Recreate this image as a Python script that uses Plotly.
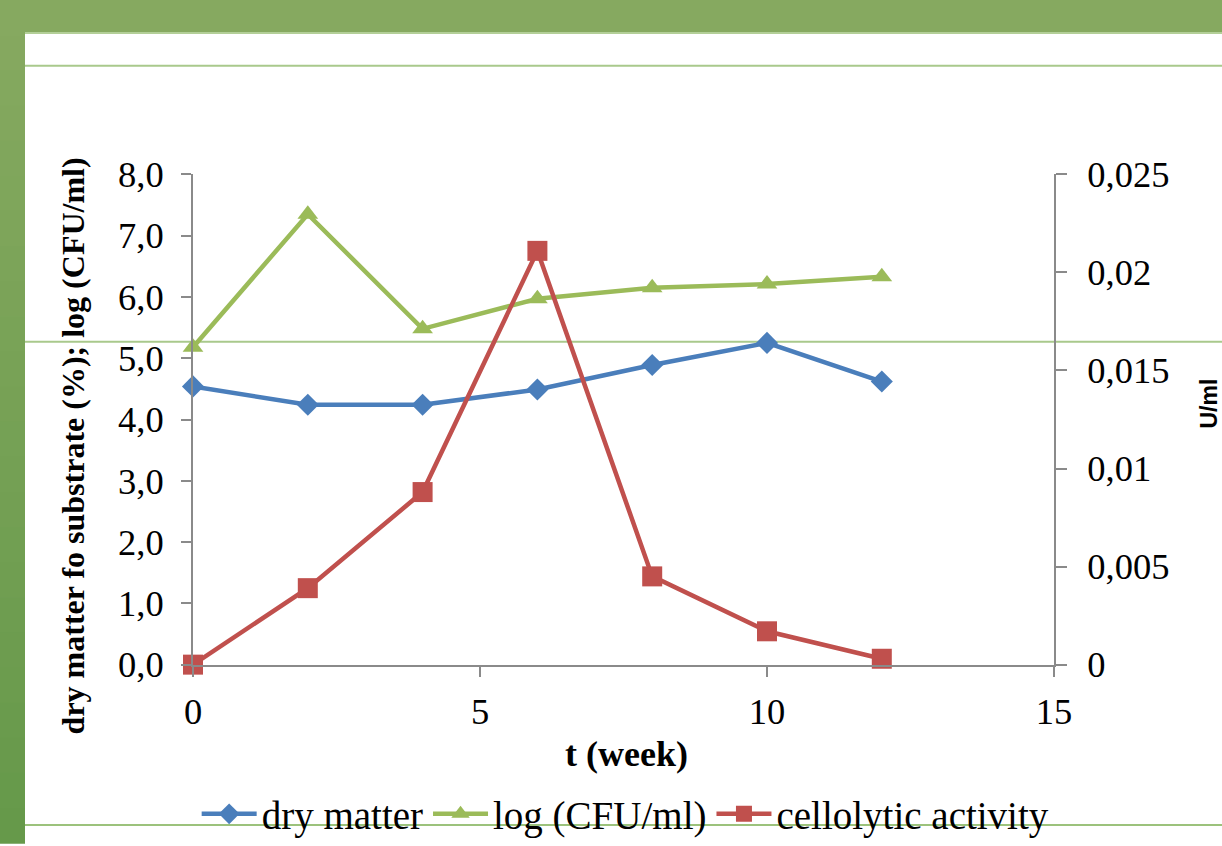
import plotly.graph_objects as go

# Sampling times (weeks)
weeks = [0, 2, 4, 6, 8, 10, 12]

# Dry matter of substrate (%)
dry_matter = [4.54, 4.24, 4.24, 4.49, 4.89, 5.25, 4.62]
# log (CFU/ml)
log_cfu = [5.18, 7.35, 5.48, 5.97, 6.15, 6.21, 6.33]
# Cellolytic activity (U/ml)
cellolytic = [0.0, 0.0039, 0.0088, 0.0211, 0.0045, 0.0017, 0.0003]

# Axis ticks and labels (decimal comma)
left_ticks = [0, 1, 2, 3, 4, 5, 6, 7, 8]
left_labels = ["0,0", "1,0", "2,0", "3,0", "4,0", "5,0", "6,0", "7,0", "8,0"]
right_ticks = [0, 0.005, 0.01, 0.015, 0.02, 0.025]
right_labels = ["0", "0,005", "0,01", "0,015", "0,02", "0,025"]
x_ticks = [0, 5, 10, 15]

W, H = 1222, 846
BLUE = "#4a7ebb"
GREEN = "#9bbb59"
RED = "#c0504d"
AXIS = "#8a8a8a"
SERIF = "Liberation Serif, Times New Roman, serif"

fig = go.Figure()
fig.add_trace(go.Scatter(
    x=weeks, y=dry_matter, name="dry matter", mode="lines+markers",
    line=dict(color=BLUE, width=4.5),
    marker=dict(symbol="diamond", size=17, color=BLUE),
    cliponaxis=False, yaxis="y"))
fig.add_trace(go.Scatter(
    x=weeks, y=log_cfu, name="log (CFU/ml)", mode="lines+markers",
    line=dict(color=GREEN, width=4.5),
    marker=dict(symbol="triangle-up", size=18, color=GREEN),
    cliponaxis=False, yaxis="y"))
fig.add_trace(go.Scatter(
    x=weeks, y=cellolytic, name="cellolytic activity", mode="lines+markers",
    line=dict(color=RED, width=4.5),
    marker=dict(symbol="square", size=20, color=RED),
    cliponaxis=False, yaxis="y2"))

x0, x1 = 193 / W, 1054 / W
y0, y1 = 1 - 667 / H, 1 - 175 / H
tick_font = dict(family=SERIF, size=36.5, color="black")

fig.update_layout(
    width=W, height=H,
    margin=dict(l=0, r=0, t=0, b=0),
    paper_bgcolor="white", plot_bgcolor="rgba(0,0,0,0)",
    showlegend=True,
    legend=dict(orientation="h", x=0.512, xanchor="center", y=1 - 817 / H,
                yanchor="middle", font=dict(family=SERIF, size=39, color="black"),
                itemwidth=55, bgcolor="rgba(0,0,0,0)", tracegroupgap=0),
    xaxis=dict(domain=[x0, x1], range=[0, 15], tickvals=x_ticks,
               ticks="outside", ticklen=10, tickwidth=2, tickcolor=AXIS,
               showline=True, linecolor=AXIS, linewidth=2, showgrid=False,
               zeroline=False, tickfont=tick_font, automargin=False,
               ticklabelstandoff=4),
    yaxis=dict(domain=[y0, y1], range=[0, 8], tickvals=left_ticks,
               ticktext=left_labels, ticks="outside", ticklen=10, tickwidth=2,
               tickcolor=AXIS, showline=True, linecolor=AXIS, linewidth=2,
               showgrid=False, zeroline=False, tickfont=tick_font,
               automargin=False, ticklabelstandoff=10),
    yaxis2=dict(domain=[y0, y1], range=[0, 0.025], overlaying="y", side="right",
                anchor="x", tickvals=right_ticks, ticktext=right_labels,
                ticks="outside", ticklen=11, tickwidth=2, tickcolor=AXIS,
                showline=True, linecolor=AXIS, linewidth=2, showgrid=False,
                zeroline=False, tickfont=tick_font, automargin=False,
                ticklabelstandoff=13),
    yaxis3=dict(domain=[y0, y1], range=[0, 0.025], overlaying="y", side="right",
                anchor="x", tickvals=right_ticks, ticks="inside", ticklen=11,
                tickwidth=2, tickcolor=AXIS, showticklabels=False,
                showline=False, showgrid=False, zeroline=False),
)

shapes = []
# left vertical band, shaded from top to bottom
top_rgb = (0x86, 0xa9, 0x60)
bot_rgb = (0x66, 0x99, 0x4a)
n = 24
for i in range(n):
    t = i / (n - 1)
    c = tuple(round(a + (b - a) * t) for a, b in zip(top_rgb, bot_rgb))
    shapes.append(dict(type="rect", xref="paper", yref="paper",
                       x0=0, x1=25 / W, y0=1 - (i + 1) / n - 0.001,
                       y1=1 - i / n, line=dict(width=0),
                       fillcolor="rgb(%d,%d,%d)" % c, layer="below"))
# top band
shapes.append(dict(type="rect", xref="paper", yref="paper", x0=0, x1=1,
                   y0=1 - 32 / H, y1=1, line=dict(width=0),
                   fillcolor="#86a960", layer="below"))
# thin rules
for yy, col in [(33, "#b3cf98"), (66, "#a9c98c"), (343, "#a9c98c"), (828, "#9cc27c")]:
    shapes.append(dict(type="line", xref="paper", yref="paper",
                       x0=25 / W, x1=1, y0=1 - yy / H, y1=1 - yy / H,
                       line=dict(color=col, width=2), layer="below"))
fig.update_layout(shapes=shapes)

fig.add_annotation(text="<b>dry matter fo substrate (%); log (CFU/ml)</b>",
                   xref="paper", yref="paper", x=73 / W, y=1 - 448 / H,
                   xanchor="center", yanchor="middle", textangle=-90,
                   showarrow=False, font=dict(family=SERIF, size=32, color="black"))
fig.add_annotation(text="<b>t (week)</b>", xref="paper", yref="paper",
                   x=626 / W, y=1 - 757 / H, xanchor="center", yanchor="middle",
                   showarrow=False, font=dict(family=SERIF, size=36, color="black"))
fig.add_annotation(text="<b>U/ml</b>", xref="paper", yref="paper",
                   x=1209 / W, y=1 - 405 / H, xanchor="center", yanchor="middle",
                   textangle=-90, showarrow=False,
                   font=dict(family="Liberation Sans, Arial, sans-serif", size=23,
                             color="black"))

fig.write_html("out.html")
